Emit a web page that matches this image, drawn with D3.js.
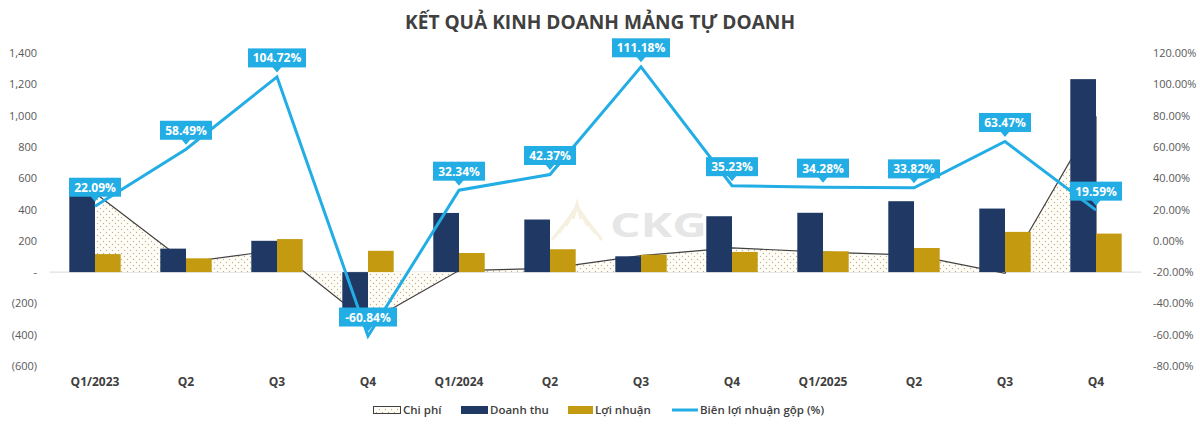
<!DOCTYPE html>
<html><head><meta charset="utf-8">
<script src="https://cdn.jsdelivr.net/npm/d3@7"></script>
<style>body{margin:0;background:#fff}svg{display:block}</style>
</head><body><svg id="c" width="1200" height="431"></svg>
<script>
const title = "KẾT QUẢ KINH DOANH MẢNG TỰ DOANH";
const categories = ["Q1/2023","Q2","Q3","Q4","Q1/2024","Q2","Q3","Q4","Q1/2025","Q2","Q3","Q4"];
const chiPhi   = [505, 62, 140, -320, 10, 24, 105, 155, 128, 109, -8, 995];
const doanhThu = [505, 150, 200, -245, 378, 336, 101, 357, 379, 453, 406, 1233];
const loiNhuan = [115, 88, 211, 136, 122, 146, 111, 129, 133, 154, 257, 246];
const bienLN   = [22.09, 58.49, 104.72, -60.84, 32.34, 42.37, 111.18, 35.23, 34.28, 33.82, 63.47, 19.59];
const leftTicks  = [-600,-400,-200,0,200,400,600,800,1000,1200,1400];
const rightTicks = [-80,-60,-40,-20,0,20,40,60,80,100,120];
const legendNames = ["Chi phí","Doanh thu","Lợi nhuận","Biên lợi nhuận gộp (%)"];

const C = {navy:"#1f3864", gold:"#c39a10", blue:"#22ade4", text:"#595959", dark:"#404040"};
const svg = d3.select("#c");
const FONT = "'Open Sans', 'Noto Sans', sans-serif";
const pct = v => d3.format(".2f")(v).replace("\u2212","-") + "%";

// pattern
const defs = svg.append("defs");
const pat = defs.append("pattern").attr("id","dots").attr("patternUnits","userSpaceOnUse")
  .attr("width",6).attr("height",6);
pat.append("rect").attr("width",6).attr("height",6).attr("fill","#fffdf8");
pat.append("circle").attr("cx",1.5).attr("cy",1.5).attr("r",0.65).attr("fill","#c2b084");
pat.append("circle").attr("cx",4.5).attr("cy",4.5).attr("r",0.65).attr("fill","#c2b084");

const idx = d3.range(categories.length);
const x = d3.scaleBand().domain(idx).range([49.5,1141.5]).paddingInner(0).paddingOuter(0);
const cx = i => x(i) + x.bandwidth()/2;
const bw = 25.7;
const yL = d3.scaleLinear().domain([-600,1400]).range([366,53]);
const yR = d3.scaleLinear().domain([-80,120]).range([366,53]);

// title
svg.append("text").attr("x",600).attr("y",29).attr("text-anchor","middle")
  .attr("font-family",FONT).attr("font-weight",700).attr("font-size",20)
  .attr("fill",C.dark).attr("textLength",390).attr("lengthAdjust","spacingAndGlyphs").text(title);

// watermark
const wm = svg.append("g").attr("fill","none").attr("stroke","#f6f0e0").attr("stroke-width",3);
[0,7,14,21].forEach(o=>{
  wm.append("polyline").attr("points",`${552+o},${240-o} ${577},${208-o*0.2} ${602-o},${240-o}`);
});
svg.append("text").attr("x",610).attr("y",237).attr("font-family",FONT).attr("font-weight",700)
  .attr("font-size",34).attr("fill","#e6e6e6").attr("textLength",97).attr("lengthAdjust","spacingAndGlyphs").text("CKG");

// axes
const fmtL = v => v===0 ? "-" : (v<0 ? "("+d3.format(",")(-v)+")" : d3.format(",")(v));
const gL = svg.append("g").attr("transform","translate(39,0)")
  .call(d3.axisLeft(yL).tickValues(leftTicks).tickFormat(fmtL).tickSize(0).tickPadding(2));
const gR = svg.append("g").attr("transform","translate(1151,0)")
  .call(d3.axisRight(yR).tickValues(rightTicks).tickFormat(pct).tickSize(0).tickPadding(2));
[gL,gR].forEach(g=>{
  g.select(".domain").remove();
  g.selectAll("text").attr("font-family",FONT).attr("font-size",11).attr("fill",C.text);
});

// zero line
svg.append("line").attr("x1",49.5).attr("x2",1141.5).attr("y1",yL(0)).attr("y2",yL(0))
  .attr("stroke","#d9d9d9").attr("stroke-width",1);

// area Chi phi
const area = d3.area().x((d,i)=>cx(i)).y0(yL(0)).y1(d=>yL(d));
svg.append("path").datum(chiPhi).attr("d",area).attr("fill","url(#dots)");
svg.append("path").datum(chiPhi).attr("d",d3.line().x((d,i)=>cx(i)).y(d=>yL(d)))
  .attr("fill","none").attr("stroke",C.dark).attr("stroke-width",1.2);
svg.append("line").attr("x1",cx(11)).attr("x2",cx(11)).attr("y1",yL(chiPhi[11])).attr("y2",yL(0))
  .attr("stroke",C.dark).attr("stroke-width",1.2);

// bars
svg.append("g").selectAll("rect").data(doanhThu).join("rect")
  .attr("x",(d,i)=>cx(i)-bw).attr("width",bw)
  .attr("y",d=>Math.min(yL(d),yL(0))).attr("height",d=>Math.abs(yL(d)-yL(0)))
  .attr("fill",C.navy);
svg.append("g").selectAll("rect").data(loiNhuan).join("rect")
  .attr("x",(d,i)=>cx(i)).attr("width",bw)
  .attr("y",d=>Math.min(yL(d),yL(0))).attr("height",d=>Math.abs(yL(d)-yL(0)))
  .attr("fill",C.gold);

// line
svg.append("path").datum(bienLN).attr("d",d3.line().x((d,i)=>cx(i)).y(d=>yR(d)))
  .attr("fill","none").attr("stroke",C.blue).attr("stroke-width",3).attr("stroke-linejoin","miter");

// labels
const lg = svg.append("g");
bienLN.forEach((v,i)=>{
  const px = cx(i), py = yR(v);
  const txt = pct(v);
  const w = txt.length>6 ? 58 : 52, h = 19;
  const cy = py - 19;
  lg.append("path").attr("d",`M${px-5},${cy+h/2-1} L${px+5},${cy+h/2-1} L${px},${cy+h/2+5} Z`).attr("fill",C.blue);
  lg.append("rect").attr("x",px-w/2).attr("y",cy-h/2).attr("width",w).attr("height",h).attr("fill",C.blue);
  lg.append("text").attr("x",px).attr("y",cy+4.5).attr("text-anchor","middle")
    .attr("font-family",FONT).attr("font-weight",700).attr("font-size",12).attr("fill","#fff").text(txt);
});

// x labels
svg.append("g").selectAll("text").data(categories).join("text")
  .attr("x",(d,i)=>cx(i)).attr("y",386).attr("text-anchor","middle")
  .attr("font-family",FONT).attr("font-weight",700).attr("font-size",12).attr("fill",C.dark).text(d=>d);

// legend
const leg = svg.append("g").attr("font-family",FONT).attr("font-weight",600).attr("font-size",11.5).attr("fill",C.dark);
leg.append("rect").attr("x",373.5).attr("y",406.5).attr("width",27).attr("height",7).attr("fill","url(#dots)").attr("stroke",C.dark).attr("stroke-width",1);
leg.append("text").attr("x",403).attr("y",414).text(legendNames[0]);
leg.append("rect").attr("x",461).attr("y",406).attr("width",27).attr("height",8).attr("fill",C.navy);
leg.append("text").attr("x",490).attr("y",414).text(legendNames[1]);
leg.append("rect").attr("x",568).attr("y",406).attr("width",25).attr("height",8).attr("fill",C.gold);
leg.append("text").attr("x",595).attr("y",414).text(legendNames[2]);
leg.append("line").attr("x1",672).attr("x2",698).attr("y1",410).attr("y2",410).attr("stroke",C.blue).attr("stroke-width",3);
leg.append("text").attr("x",700).attr("y",414).text(legendNames[3]);
</script></body></html>
